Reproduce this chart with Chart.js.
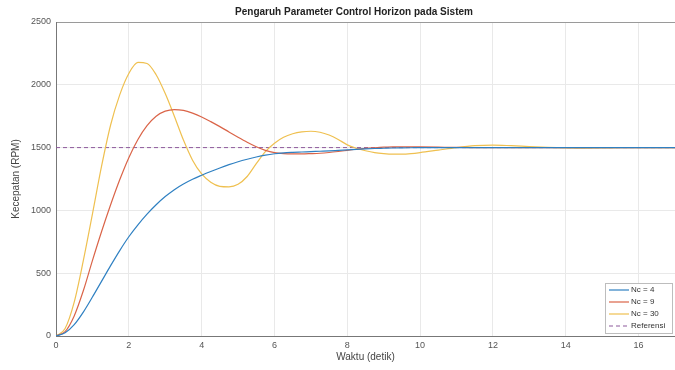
<!DOCTYPE html>
<html>
<head>
<meta charset="utf-8">
<script src="https://cdn.jsdelivr.net/npm/chart.js@4.4.1/dist/chart.umd.min.js"></script>
<style>
html,body{margin:0;padding:0;background:#fff;}
#wrap{width:675px;height:370px;}
</style>
</head>
<body>
<div id="wrap"><canvas id="c" width="675" height="370"></canvas></div>
<script>
const chartTitle = "Pengaruh Parameter Control Horizon pada Sistem";
const xTitle = "Waktu (detik)";
const yTitle = "Kecepatan (RPM)";
const seriesNames = ["Nc = 4", "Nc = 9", "Nc = 30", "Referensi"];

const waktu = [0,0.25,0.5,0.75,1,1.25,1.5,1.75,2,2.25,2.5,2.75,3,3.25,3.5,3.75,4,4.25,4.5,4.75,5,5.25,5.5,5.75,6,6.25,6.5,6.75,7,7.25,7.5,7.75,8,8.25,8.5,8.75,9,9.25,9.5,9.75,10,10.5,11,11.5,12,12.5,13,13.5,14,14.5,15,15.5,16,16.5,17];

const nc4 = [0,25,90,190,310,435,560,680,790,885,970,1045,1110,1165,1210,1248,1280,1310,1338,1364,1387,1407,1425,1440,1451,1458,1462,1465,1468,1471,1474,1478,1482,1486,1490,1493,1495,1497,1498,1499,1500,1500,1500,1500,1500,1500,1500,1500,1500,1500,1500,1500,1500,1500,1500];

const nc9 = [0,35,160,360,600,830,1045,1244,1420,1565,1675,1750,1790,1803,1796,1774,1744,1707,1667,1625,1583,1543,1507,1478,1460,1452,1450,1450,1452,1455,1461,1469,1478,1487,1494,1499,1503,1505,1506,1506,1505,1503,1501,1500,1500,1500,1500,1500,1500,1500,1500,1500,1500,1500,1500];

const nc30 = [0,60,270,600,970,1350,1680,1920,2090,2178,2170,2080,1930,1750,1560,1400,1290,1225,1192,1188,1208,1270,1372,1468,1535,1582,1610,1625,1630,1622,1600,1565,1522,1495,1475,1460,1452,1448,1448,1452,1460,1480,1500,1515,1520,1515,1508,1502,1498,1496,1497,1499,1500,1500,1500];

const refX = [0,17];
const refY = [1500,1500];

const yTicks = [0,500,1000,1500,2000,2500];
const xTicks = [0,2,4,6,8,10,12,14,16];

const colors = ["#2f80c2","#da6448","#efc050","#8e5a9c"];

function pts(xs, ys){ return xs.map((t,i)=>({x:t,y:ys[i]})); }

const FONT = "'Liberation Sans', Arial, Helvetica, sans-serif";

const titlePlugin = {
  id:'titlePlugin',
  afterDraw(chart){
    const ctx = chart.ctx;
    ctx.save();
    ctx.font = "bold 10px " + FONT;
    ctx.fillStyle = "#222";
    ctx.textAlign = "center";
    ctx.textBaseline = "middle";
    ctx.fillText(chartTitle, 354, 12);
    ctx.restore();
  }
};

const legendPlugin = {
  id:'legendPlugin',
  afterDraw(chart){
    const ctx = chart.ctx;
    const bx = 605, by = 283, bw = 67, bh = 50;
    ctx.save();
    ctx.fillStyle = "#fff";
    ctx.fillRect(bx,by,bw,bh);
    ctx.strokeStyle = "#bdbdbd";
    ctx.lineWidth = 1;
    ctx.strokeRect(bx+0.5,by+0.5,bw,bh);
    ctx.font = "8px " + FONT;
    ctx.textBaseline = "middle";
    ctx.textAlign = "left";
    chart.data.datasets.forEach((ds,i)=>{
      const y = by + 7 + i*12;
      ctx.strokeStyle = ds.borderColor;
      ctx.lineWidth = 1.2;
      ctx.setLineDash(ds.borderDash || []);
      ctx.beginPath();
      ctx.moveTo(bx+4,y);
      ctx.lineTo(bx+24,y);
      ctx.stroke();
      ctx.setLineDash([]);
      ctx.fillStyle = "#333";
      ctx.fillText(ds.label, bx+26, y);
    });
    ctx.restore();
  }
};

new Chart(document.getElementById('c'), {
  type:'line',
  data:{
    datasets:[
      {label:seriesNames[0], data:pts(waktu,nc4), borderColor:colors[0], borderWidth:1.2, pointRadius:0, cubicInterpolationMode:'monotone', fill:false},
      {label:seriesNames[1], data:pts(waktu,nc9), borderColor:colors[1], borderWidth:1.2, pointRadius:0, cubicInterpolationMode:'monotone', fill:false},
      {label:seriesNames[2], data:pts(waktu,nc30), borderColor:colors[2], borderWidth:1.2, pointRadius:0, cubicInterpolationMode:'monotone', fill:false},
      {label:seriesNames[3], data:pts(refX,refY), borderColor:colors[3], borderWidth:1, borderDash:[4,3], pointRadius:0, fill:false}
    ]
  },
  options:{
    responsive:false,
    animation:false,
    layout:{padding:{top:22,right:0,left:0,bottom:0}},
    plugins:{legend:{display:false}, title:{display:false}, tooltip:{enabled:false}},
    scales:{
      x:{
        type:'linear', min:0, max:17,
        afterBuildTicks(s){ s.ticks = xTicks.map(v=>({value:v})); },
        afterFit(s){ s.height = 34; },
        grid:{color:'#e9e9e9', drawTicks:false},
        border:{color:'#777'},
        ticks:{font:{size:9,family:FONT}, color:'#555', padding:4, maxRotation:0, includeBounds:false, callback:(v)=>String(v)},
        title:{display:true, text:xTitle, font:{size:10,family:FONT}, color:'#444', padding:{top:0,bottom:7}}
      },
      y:{
        type:'linear', min:0, max:2500,
        afterBuildTicks(s){ s.ticks = yTicks.map(v=>({value:v})); },
        afterFit(s){ s.width = 56; },
        grid:{color:(c)=> c.tick && c.tick.value===2500 ? '#9a9a9a' : '#e9e9e9', drawTicks:false},
        border:{color:'#777'},
        ticks:{font:{size:9,family:FONT}, color:'#555', padding:5, callback:(v)=>String(v)},
        title:{display:true, text:yTitle, font:{size:10,family:FONT}, color:'#444', padding:{top:10,bottom:0}}
      }
    }
  },
  plugins:[titlePlugin, legendPlugin]
});
</script>
</body>
</html>
